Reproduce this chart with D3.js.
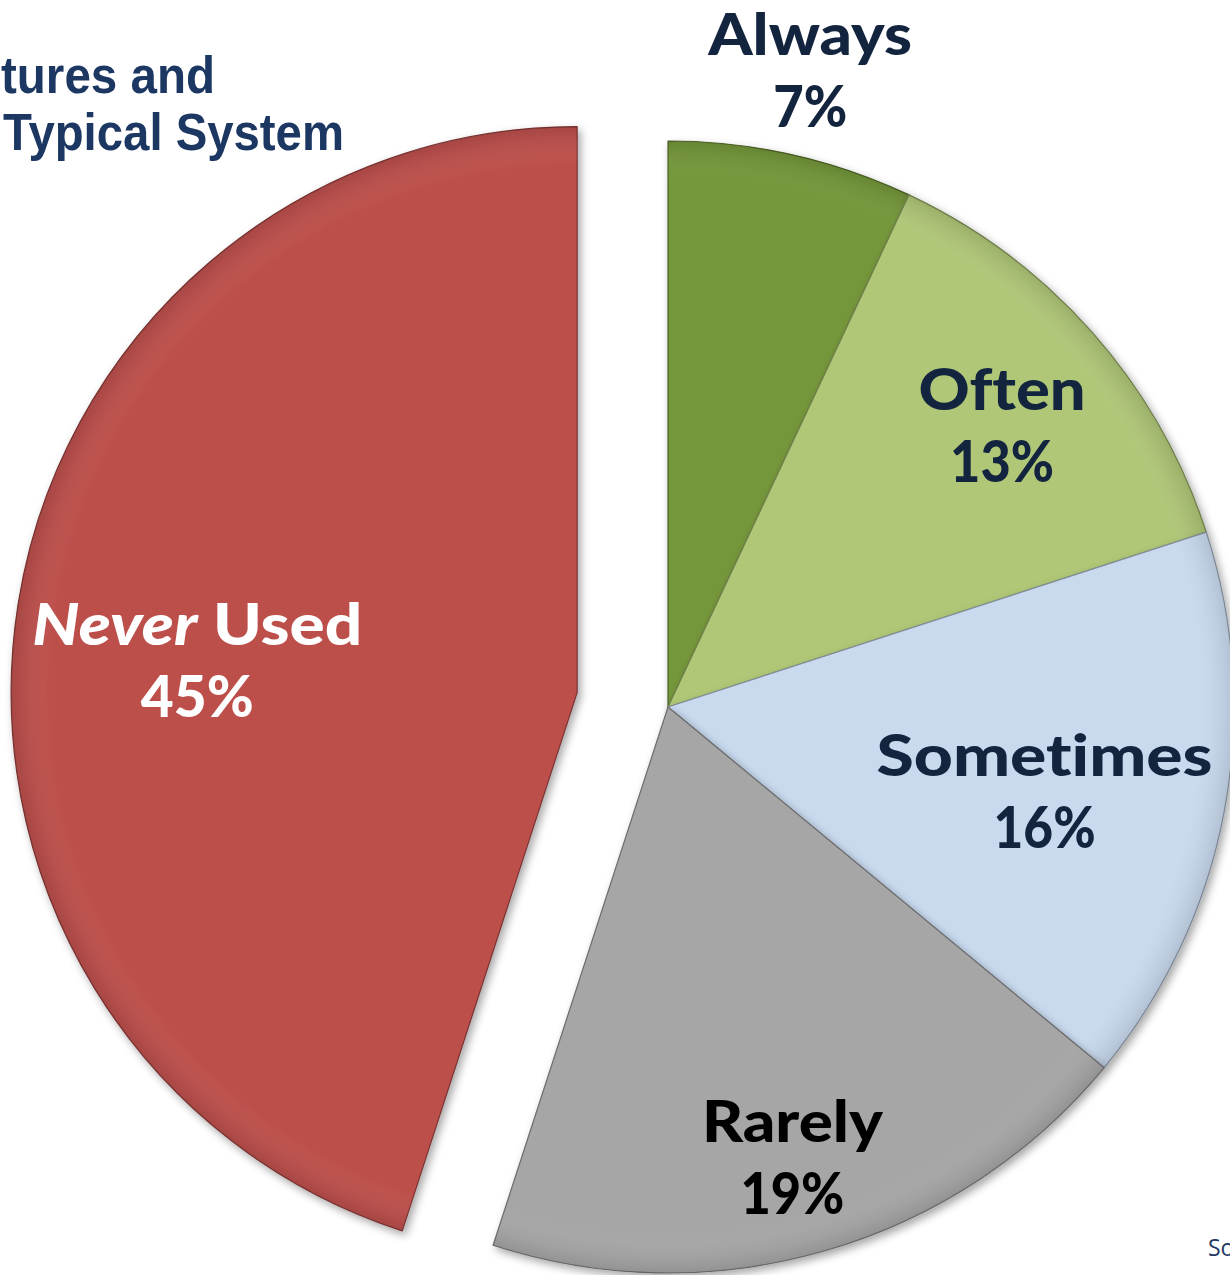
<!DOCTYPE html>
<html>
<head>
<meta charset="utf-8">
<script src="https://cdn.jsdelivr.net/npm/d3@7"></script>
<style>
  html, body { margin: 0; padding: 0; background: #ffffff; }
  svg { display: block; }
  text { font-variant-ligatures: none; }
</style>
</head>
<body>
<svg id="chart" width="1230" height="1275"></svg>
<script>
// ---- data ----
const categories = ["Always", "Often", "Sometimes", "Rarely", "Never Used"];
const values = [7, 13, 16, 19, 45];
const valueLabels = ["7%", "13%", "16%", "19%", "45%"];
const titleLines = ["tures and", "Typical System"];
const sourceText = "Source:";

// ---- style / layout ----
const colors = ["#74973a", "#b0c777", "#c9daef", "#a6a6a6", "#bd4f4c"];
const labelColors = ["#13243f", "#13243f", "#13243f", "#000000", "#ffffff"];
const explode = { "Never Used": 92 };
// label placement relative to slice: [radius, angle shift in degrees]
const labelPlace = {
  "Always": [632, 0.4],
  "Often": [424, 3.4],
  "Sometimes": [391, 4.8],
  "Rarely": [487, 1.4],
  "Never Used": [380, -7.3]
};
const labelWidths = {
  "Always": [204, 74], "Often": [167, 104], "Sometimes": [336, 102],
  "Rarely": [181, 104], "Never Used": [330, 113]
};

const W = 1230, H = 1275;
const cx = 668, cy = 707, R = 566;

const svg = d3.select("#chart");
const defs = svg.append("defs");
const f = defs.append("filter").attr("id", "shadow")
  .attr("x", "-10%").attr("y", "-10%").attr("width", "120%").attr("height", "120%");
f.append("feDropShadow").attr("dx", 3).attr("dy", 4).attr("stdDeviation", 4)
  .attr("flood-color", "#000").attr("flood-opacity", 0.35);

// subtle inner shading gradient
const rg = defs.append("radialGradient").attr("id", "shade")
  .attr("gradientUnits", "userSpaceOnUse").attr("cx", 0).attr("cy", 0).attr("r", R);
rg.append("stop").attr("offset", "0%").attr("stop-color", "#fff").attr("stop-opacity", 0);
rg.append("stop").attr("offset", "93%").attr("stop-color", "#fff").attr("stop-opacity", 0);
rg.append("stop").attr("offset", "100%").attr("stop-color", "#000").attr("stop-opacity", 0.12);

const pie = d3.pie().sort(null).value(d => d.value);
const data = pie(categories.map((c, i) => ({ cat: c, value: values[i], i })));
const arc = d3.arc().innerRadius(0).outerRadius(R);

const g = svg.append("g").attr("transform", `translate(${cx},${cy})`);

function offsetOf(d) {
  const e = explode[d.data.cat] || 0;
  const a = (d.startAngle + d.endAngle) / 2;
  return [e * Math.sin(a), -e * Math.cos(a)];
}

const slices = g.selectAll("g.slice").data(data).join("g")
  .attr("class", "slice")
  .attr("transform", d => { const o = offsetOf(d); return `translate(${o[0]},${o[1]})`; })
  .attr("filter", "url(#shadow)");

slices.append("path")
  .attr("d", arc)
  .attr("fill", d => colors[d.data.i])
  .attr("stroke", d => d3.color(colors[d.data.i]).darker(1.2))
  .attr("stroke-width", 1.2)
  .attr("stroke-linejoin", "round");

slices.append("path")
  .attr("d", arc)
  .attr("fill", "url(#shade)")
  .attr("pointer-events", "none");

// labels
const labelFont = "Lato, 'Open Sans', 'DejaVu Sans', sans-serif";
data.forEach(d => {
  const cat = d.data.cat;
  const o = offsetOf(d);
  const [lr, shift] = labelPlace[cat];
  const a = (d.startAngle + d.endAngle) / 2 + shift * Math.PI / 180;
  const px = cx + o[0] + lr * Math.sin(a);
  const py = cy + o[1] - lr * Math.cos(a);
  const col = labelColors[d.data.i];
  const t1 = svg.append("text")
    .attr("x", px).attr("y", py - 36)
    .attr("text-anchor", "middle")
    .attr("font-family", labelFont).attr("font-weight", 900)
    .attr("font-size", 58).attr("fill", col)
    .attr("textLength", labelWidths[cat][0]).attr("lengthAdjust", "spacingAndGlyphs");
  if (cat === "Never Used") {
    t1.append("tspan").attr("font-style", "italic").text("Never");
    t1.append("tspan").text(" Used");
  } else {
    t1.text(cat);
  }
  svg.append("text")
    .attr("x", px).attr("y", py + 36)
    .attr("text-anchor", "middle")
    .attr("font-family", labelFont).attr("font-weight", 900)
    .attr("font-size", 58).attr("fill", col)
    .attr("textLength", labelWidths[cat][1]).attr("lengthAdjust", "spacingAndGlyphs")
    .text(valueLabels[d.data.i]);
});

// partial title (cut off at left in the original)
const titleFont = "'Liberation Sans', Arial, sans-serif";
svg.append("text").attr("x", 1).attr("y", 93)
  .attr("font-family", titleFont).attr("font-weight", 700).attr("font-size", 52)
  .attr("fill", "#1b3762").attr("textLength", 214).attr("lengthAdjust", "spacingAndGlyphs")
  .text(titleLines[0]);
svg.append("text").attr("x", 3).attr("y", 150)
  .attr("font-family", titleFont).attr("font-weight", 700).attr("font-size", 52)
  .attr("fill", "#1b3762").attr("textLength", 341).attr("lengthAdjust", "spacingAndGlyphs")
  .text(titleLines[1]);

svg.append("text").attr("x", 1208).attr("y", 1256)
  .attr("font-family", "'Open Sans', 'Liberation Sans', sans-serif").attr("font-size", 23)
  .attr("fill", "#1f3864").text(sourceText);
</script>
</body>
</html>
